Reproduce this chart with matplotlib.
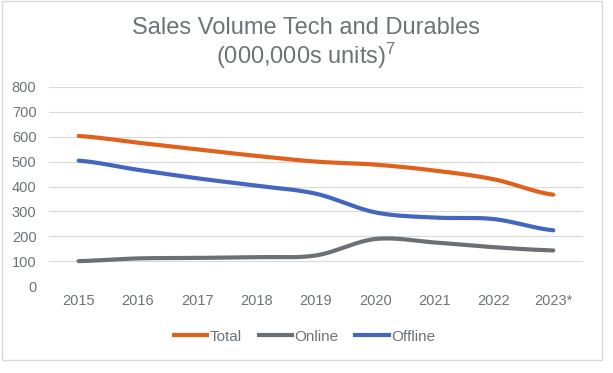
import numpy as np
import matplotlib
matplotlib.use('Agg')
from matplotlib import pyplot as plt
from matplotlib.patches import Rectangle
from matplotlib.lines import Line2D

years = ['2015', '2016', '2017', '2018', '2019', '2020', '2021', '2022', '2023*']
total = [603, 576, 549, 523, 500, 488, 464, 429, 367]
online = [100, 111, 113, 116, 123, 189, 175, 156, 143]
offline = [504, 467, 433, 403, 371, 296, 275, 269, 224]

plt.rcParams['font.family'] = ['Liberation Sans', 'DejaVu Sans']
plt.rcParams['mathtext.fontset'] = 'custom'
plt.rcParams['mathtext.rm'] = 'Liberation Sans'
plt.rcParams['mathtext.default'] = 'regular'

txt_col = '#6e7378'


def smooth(xs, ys, n=30):
    # catmull-rom style smoothing like excel's "smoothed line"
    xs = np.asarray(xs, float)
    ys = np.asarray(ys, float)
    px = np.concatenate([[2 * xs[0] - xs[1]], xs, [2 * xs[-1] - xs[-2]]])
    py = np.concatenate([[ys[0]], ys, [ys[-1]]])
    ox, oy = [], []
    for i in range(1, len(px) - 2):
        t = np.linspace(0, 1, n)
        for arr, out in ((px, ox), (py, oy)):
            p0, p1, p2, p3 = arr[i - 1], arr[i], arr[i + 1], arr[i + 2]
            out.extend(0.5 * ((2 * p1) + (-p0 + p2) * t
                              + (2 * p0 - 5 * p1 + 4 * p2 - p3) * t ** 2
                              + (-p0 + 3 * p1 - 3 * p2 + p3) * t ** 3))
    return ox, oy


fig = plt.figure(figsize=(6.13, 3.73), dpi=100)
ax = fig.add_axes([0.0799, 0.2332, 0.8711, 0.5336])

x = np.arange(len(years))
series = [('Total', total, '#e0611c'), ('Online', online, '#6b7075'), ('Offline', offline, '#4466c0')]
for name, vals, col in series:
    sx, sy = smooth(x, vals)
    ax.plot(sx, sy, color=col, lw=3, solid_capstyle='round', label=name)

ax.set_xlim(-0.5, len(years) - 0.5)
ax.set_ylim(0, 800)
ax.set_yticks(range(0, 801, 100))
ax.set_xticks(x)
ax.set_xticklabels(years)
ax.tick_params(length=0, labelsize=10.5, colors=txt_col, pad=6)
ax.tick_params(axis='y', pad=9)
ax.grid(axis='y', color='#d9d9d9', lw=0.8)
ax.set_axisbelow(True)
for s in ax.spines.values():
    s.set_visible(False)

fig.text(0.5, 0.926, 'Sales Volume Tech and Durables', ha='center', va='center',
         fontsize=17, color=txt_col)
fig.text(0.5, 0.85, '(000,000s units)$^{7}$', ha='center', va='center',
         fontsize=17, color=txt_col)

handles = [Line2D([], [], color=c, lw=3) for _, _, c in series]
fig.legend(handles, [s[0] for s in series], loc='center', bbox_to_anchor=(0.497, 0.097),
           ncol=3, frameon=False, fontsize=11, labelcolor=txt_col,
           handlelength=2.2, handletextpad=0.15, columnspacing=1.1)

fig.add_artist(Rectangle((2 / 613, 0.035), 600 / 613, 0.962, transform=fig.transFigure,
                         fill=False, edgecolor='#d9d9d9', lw=1))

fig.savefig('out.png', dpi=100)
